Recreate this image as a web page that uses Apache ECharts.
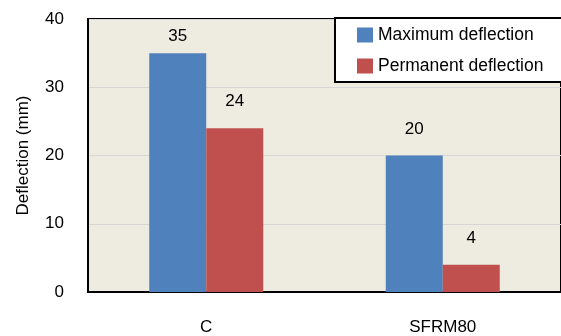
<!DOCTYPE html>
<html><head><meta charset="utf-8">
<script src="https://cdn.jsdelivr.net/npm/echarts@6/dist/echarts.min.js"></script>
<style>html,body{margin:0;padding:0;background:#fff}#c{width:561px;height:336px}</style>
</head><body><div id="c"></div>
<script>
const categories = ['C', 'SFRM80'];
const maxDeflection = [35, 20];
const permDeflection = [24, 4];
const seriesNames = ['Maximum deflection', 'Permanent deflection'];
const yTicks = { min: 0, max: 40, interval: 10 };

const font = 'Liberation Sans, Arial, sans-serif';
// label gap above bars; the tallest bar's label is squeezed under the plot top
function withLabelGap(values) {
  return values.map(v => (v >= 35 ? { value: v, label: { distance: 8 } } : v));
}
const chart = echarts.init(document.getElementById('c'), null, { renderer: 'canvas' });
chart.setOption({
  animation: false,
  textStyle: { fontFamily: font },
  grid: { left: 88, top: 19, right: -3, bottom: 43, show: true, backgroundColor: '#EEEBE0', borderColor: '#000', borderWidth: 2, containLabel: false },
  legend: {
    orient: 'vertical', left: 335, top: 18,
    icon: 'rect', itemWidth: 16, itemHeight: 15, itemGap: 13,
    padding: [8, 40, 7, 22],
    backgroundColor: '#fff', borderColor: '#000', borderWidth: 2,
    textStyle: { fontSize: 17.5, color: '#000', fontFamily: font },
    data: seriesNames
  },
  xAxis: {
    type: 'category', data: categories,
    axisLine: { lineStyle: { color: '#000', width: 2 } },
    axisTick: { show: false },
    axisLabel: { color: '#000', fontSize: 17, margin: 27, fontFamily: font },
    splitLine: { show: false }
  },
  yAxis: {
    type: 'value', min: yTicks.min, max: yTicks.max, interval: yTicks.interval,
    name: 'Deflection (mm)', nameLocation: 'middle', nameGap: 56,
    nameTextStyle: { fontSize: 17, color: '#000', fontFamily: font },
    axisLine: { show: true, lineStyle: { color: '#000', width: 2 } },
    axisTick: { show: false },
    axisLabel: { color: '#000', fontSize: 17, margin: 24, fontFamily: font },
    splitLine: { lineStyle: { color: '#D6D6D6', width: 1 } }
  },
  series: [
    { name: seriesNames[0], type: 'bar', data: withLabelGap(maxDeflection), barWidth: 57, barGap: '0%',
      itemStyle: { color: '#4F81BD' },
      label: { show: true, position: 'top', distance: 18, fontSize: 17, color: '#000', fontFamily: font } },
    { name: seriesNames[1], type: 'bar', data: withLabelGap(permDeflection), barWidth: 57, barGap: '0%',
      itemStyle: { color: '#C0504D' },
      label: { show: true, position: 'top', distance: 18, fontSize: 17, color: '#000', fontFamily: font } }
  ]
});
</script></body></html>
